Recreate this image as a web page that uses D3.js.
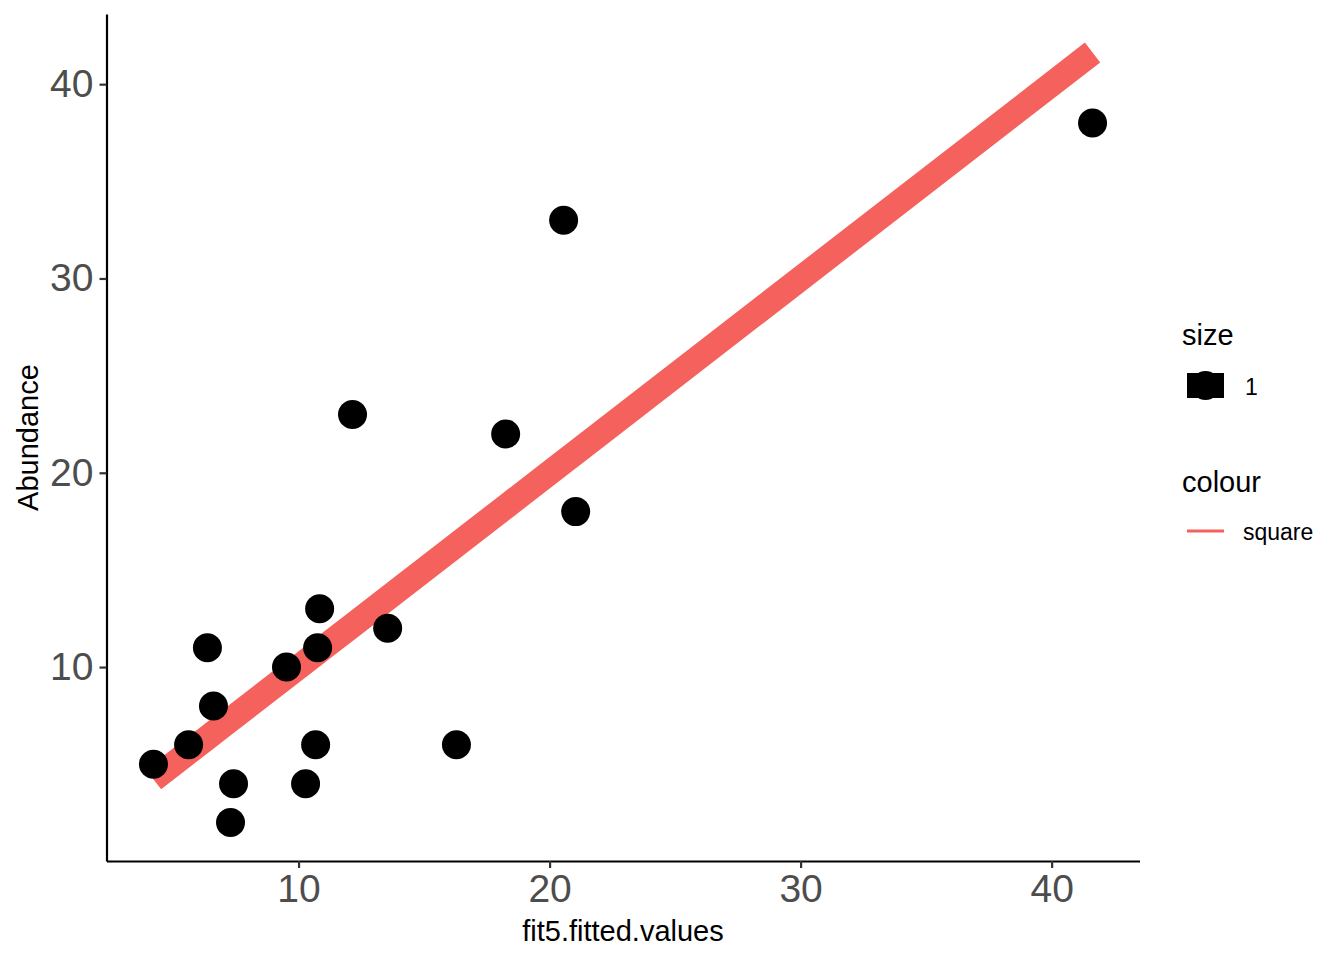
<!DOCTYPE html>
<html><head><meta charset="utf-8">
<script src="https://cdn.jsdelivr.net/npm/d3@7"></script>
<style>
body{margin:0;background:#fff}
text{font-family:"Liberation Sans",Arial,Helvetica,sans-serif}
</style>
</head><body>
<svg id="chart" width="1344" height="960"></svg>
<script>
// ---- data ----
const fittedValues = [4.22, 5.62, 6.37, 6.61, 7.41, 7.29, 9.52, 10.28, 10.68, 10.76, 10.84, 12.15, 13.55, 16.29, 18.25, 20.56, 21.04, 41.63];
const abundance    = [5,    6,    11,   8,    4,    2,    10,   4,     6,     11,    13,    23,    12,    6,     22,    33,    18,    38];
const xTicks = [10, 20, 30, 40];
const yTicks = [10, 20, 30, 40];
const sizeLegendLabels = ["1"];
const colourLegendLabels = ["square"];
const xTitle = "fit5.fitted.values";
const yTitle = "Abundance";

// ---- layout ----
const svg = d3.select("#chart");
const panel = {left: 106.5, right: 1139.5, top: 14, bottom: 861};
const lineColor = "#F5615C";

function expand(ext){ const d = ext[1]-ext[0]; return [ext[0]-0.05*d, ext[1]+0.05*d]; }
const xExt = d3.extent(fittedValues);
const yExt = d3.extent(abundance.concat(fittedValues));
const x = d3.scaleLinear().domain(expand(xExt)).range([panel.left, panel.right]);
const y = d3.scaleLinear().domain(expand(yExt)).range([panel.bottom, panel.top]);

const pts = fittedValues.map((f,i)=>({f, a: abundance[i]}));

// fitted line (y = fitted value)
const lineData = pts.slice().sort((p,q)=>p.f-q.f);
svg.append("path")
  .datum(lineData)
  .attr("d", d3.line().x(d=>x(d.f)).y(d=>y(d.f)))
  .attr("fill","none")
  .attr("stroke", lineColor)
  .attr("stroke-width", 25)
  .attr("stroke-linecap","butt");

// points
svg.append("g").selectAll("circle").data(pts).join("circle")
  .attr("cx", d=>x(d.f)).attr("cy", d=>y(d.a)).attr("r", 14.5)
  .attr("fill","#000");

// axes
const xAxis = svg.append("g").attr("transform",`translate(0,${panel.bottom})`)
  .call(d3.axisBottom(x).tickValues(xTicks).tickSize(7).tickSizeOuter(0).tickPadding(6));
const yAxis = svg.append("g").attr("transform",`translate(${panel.left},0)`)
  .call(d3.axisLeft(y).tickValues(yTicks).tickSize(7).tickSizeOuter(0).tickPadding(6));
[xAxis, yAxis].forEach(g=>{
  g.select(".domain").attr("stroke","#000").attr("stroke-width",2.2);
  g.selectAll(".tick line").attr("stroke","#333").attr("stroke-width",2.2);
  g.selectAll(".tick text").attr("fill","#4D4D4D").style("font-size","39px")
    .style("font-family",'"Liberation Sans",Arial,sans-serif');
});

// axis titles
svg.append("text").attr("x",(panel.left+panel.right)/2).attr("y",941)
  .attr("text-anchor","middle").style("font-size","29px").attr("fill","#000").text(xTitle);
svg.append("text").attr("transform",`translate(38,${(panel.top+panel.bottom)/2}) rotate(-90)`)
  .attr("text-anchor","middle").style("font-size","29px").attr("fill","#000").text(yTitle);

// legends
const lg = svg.append("g");
lg.append("text").attr("x",1182).attr("y",345).style("font-size","29px").text("size");
sizeLegendLabels.forEach((lab,i)=>{
  const cy = 385.5 + i*36;
  lg.append("rect").attr("x",1187).attr("y",cy-12.5).attr("width",37).attr("height",25).attr("fill","#000");
  lg.append("circle").attr("cx",1205.5).attr("cy",cy).attr("r",14.5).attr("fill","#000");
  lg.append("text").attr("x",1245).attr("y",cy+9).style("font-size","23px").text(lab);
});
lg.append("text").attr("x",1182).attr("y",492).style("font-size","29px").text("colour");
colourLegendLabels.forEach((lab,i)=>{
  const cy = 531 + i*36;
  lg.append("line").attr("x1",1187).attr("x2",1224).attr("y1",cy).attr("y2",cy)
    .attr("stroke",lineColor).attr("stroke-width",3);
  lg.append("text").attr("x",1243).attr("y",cy+9).style("font-size","23px").text(lab);
});
</script>
</body></html>
